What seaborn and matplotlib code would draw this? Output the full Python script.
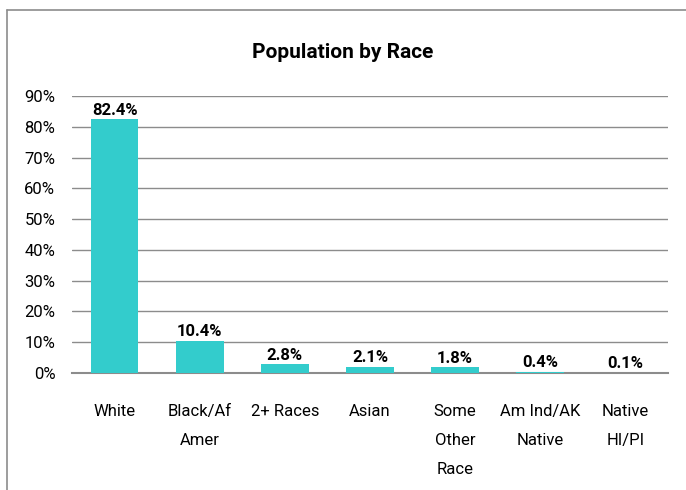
import matplotlib
matplotlib.use("Agg")
import matplotlib.pyplot as plt
from matplotlib.lines import Line2D
from matplotlib.ticker import PercentFormatter
import seaborn as sns
import pandas as pd

# data
races = ["White", "Black/Af\nAmer", "2+ Races", "Asian", "Some\nOther\nRace",
         "Am Ind/AK\nNative", "Native\nHI/PI"]
shares = [82.4, 10.4, 2.8, 2.1, 1.8, 0.4, 0.1]
labels = ["82.4%", "10.4%", "2.8%", "2.1%", "1.8%", "0.4%", "0.1%"]

df = pd.DataFrame({"race": races, "share": shares})

sns.set_theme(style="white")
plt.rcParams["font.family"] = ["Roboto", "DejaVu Sans"]

fig = plt.figure(figsize=(6.86, 4.90), dpi=100)
ax = fig.add_axes([72 / 686, 1 - 373 / 490, (668 - 72) / 686, (373 - 96) / 490])

sns.barplot(data=df, x="race", y="share", color="#33CCCC", saturation=1,
            width=0.56, linewidth=0, ax=ax, zorder=3)

ax.set_ylim(0, 90)
ax.set_yticks(range(0, 91, 10))
ax.yaxis.set_major_formatter(PercentFormatter(decimals=0))
ax.grid(axis="y", color="#8c8c8c", linewidth=1, zorder=0)
ax.set_xlabel("")
ax.set_ylabel("")
for s in ["top", "right", "left"]:
    ax.spines[s].set_visible(False)
ax.spines["bottom"].set_color("#8c8c8c")
ax.spines["bottom"].set_linewidth(1.5)
ax.tick_params(axis="both", length=0, labelsize=12, colors="black")
ax.tick_params(axis="x", pad=22)
ax.tick_params(axis="y", pad=12)
for t in ax.get_xticklabels():
    t.set_linespacing(2.2)
    t.set_verticalalignment("top")

# value labels
for i, (v, lab) in enumerate(zip(shares, labels)):
    ax.text(i, v + 0.6, lab, ha="center", va="bottom", fontsize=12,
            fontweight="bold", color="black")

fig.text(343 / 686, 1 - 52 / 490, "Population by Race", ha="center", va="center",
         fontsize=15, fontweight="bold", color="black")

# chart border (top and left edges)
fig.add_artist(Line2D([7 / 686, 1], [1 - 10 / 490, 1 - 10 / 490],
                      color="#8c8c8c", linewidth=1.2))
fig.add_artist(Line2D([7 / 686, 7 / 686], [0, 1 - 10 / 490],
                      color="#8c8c8c", linewidth=1.2))

fig.savefig("out.png", dpi=100)
